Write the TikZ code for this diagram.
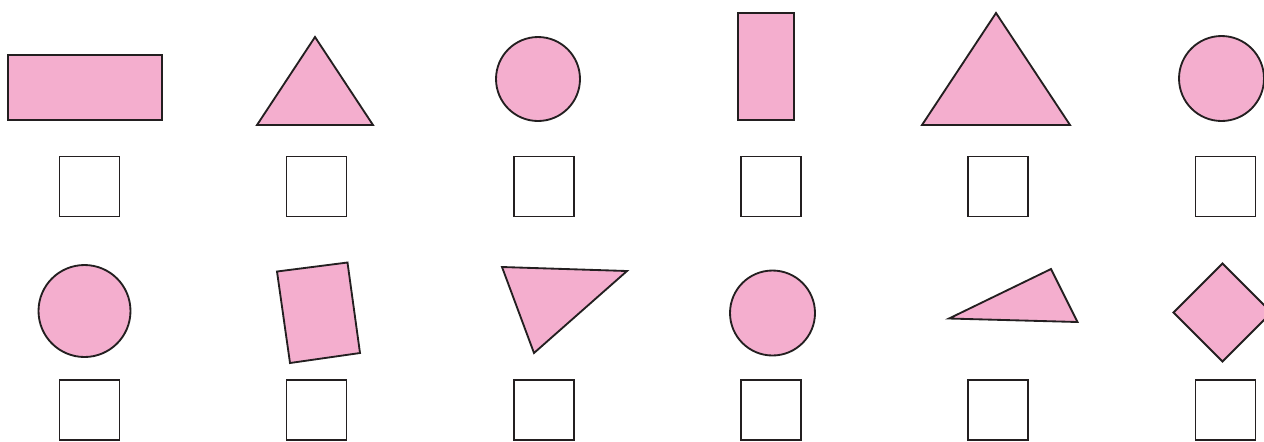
\documentclass[tikz,border=0pt]{standalone}
\usepackage{tikz}
\usetikzlibrary{positioning}
\usepackage{xcolor}
\definecolor{shapepink}{RGB}{244, 174, 206}
\definecolor{shapeink}{RGB}{35, 31, 32}
\tikzstyle{shapefill} = [draw=shapeink, fill=shapepink, line width=1.05pt, line join=miter]
\tikzstyle{answerbox} = [rectangle, draw=shapeink, fill=white, line width=1.1pt,
                         minimum size=1.2cm, inner sep=0pt]

\begin{document}
\begin{tikzpicture}[x=0.02cm, y=-0.02cm]

\useasboundingbox (0, 0) rectangle (1264, 441);
\begin{scope}
\clip (0, 0) rectangle (1264, 441);

% Row 1 shapes
\draw[shapefill] (8, 55) rectangle (162, 120);
\draw[shapefill] (315, 37) -- (373, 125) -- (257, 125) -- cycle;
\draw[shapefill] (538, 79) circle[radius=0.84cm];
\draw[shapefill] (738, 13) rectangle (794, 120);
\draw[shapefill] (996, 13) -- (1070, 125) -- (922, 125) -- cycle;
\draw[shapefill] (1221.5, 78.5) circle[radius=0.85cm];

% Row 2 shapes
\draw[shapefill] (84.5, 311) circle[radius=0.92cm];
\draw[shapefill] (277, 271.5) -- (347.5, 262.5) -- (360, 353) -- (290, 363) -- cycle;
\draw[shapefill] (502, 267) -- (627, 271) -- (534, 353) -- cycle;
\draw[shapefill] (772.5, 313) circle[radius=0.85cm];
\draw[shapefill] (949, 318.5) -- (1051, 269) -- (1077.5, 322) -- cycle;
\draw[shapefill] (1222.5, 263.5) -- (1271.5, 312.5) -- (1222.5, 361.5) -- (1173.5, 312.5) -- cycle;
\end{scope}

% Answer boxes
\foreach \bx [count=\i] in {89.5, 316.5, 544, 771, 998, 1225.5} {
    \node[answerbox] (top\i) at (\bx, 186.5) {};
    \node[answerbox] (bottom\i) at (\bx, 410) {};
}

\end{tikzpicture}
\end{document}
